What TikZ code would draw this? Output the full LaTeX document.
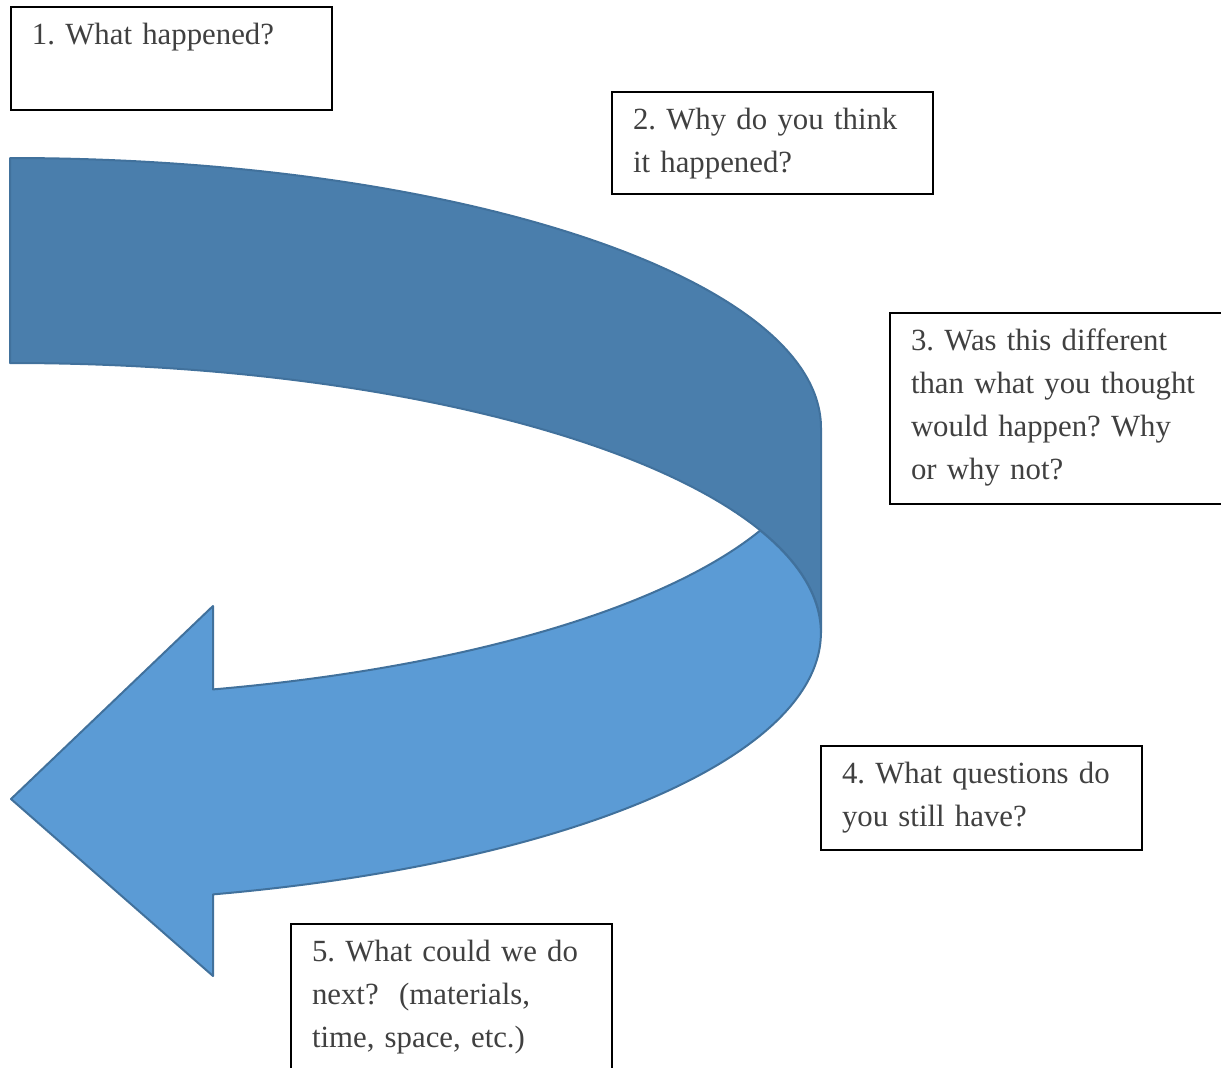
\documentclass[tikz,border=0pt]{standalone}
\usepackage{fontspec}
\setmainfont{Liberation Serif}
\usepackage{xcolor}
\usepackage{tikz}
\usetikzlibrary{positioning}
\definecolor{rbdark}{HTML}{4A7EAC}
\definecolor{rblight}{HTML}{5B9BD5}
\definecolor{rbline}{HTML}{41719C}
\definecolor{qink}{HTML}{404040}
\frenchspacing
\begin{document}
\begin{tikzpicture}[
  x=0.5pt,y=-0.5pt,
  every node/.style={font=\fontsize{15.4pt}{21.5pt}\selectfont,text=qink},
  qbox/.style={draw=black,line width=1pt,anchor=north west,align=left,outer sep=0pt,
    inner xsep=10.5pt,inner ysep=0pt,text width=139.5pt,text height=18.5pt},
  band/.style={draw=rbline,line width=1pt,line join=round},
  ell/.style={x radius=811,y radius=270}
]
\useasboundingbox (0,0) rectangle (1221,1067);
% back part of the ribbon
\draw[band,fill=rbdark] (10,158) arc[start angle=-90,end angle=0,ell]
  -- (821,633) arc[start angle=0,end angle=-90,ell] -- cycle;
% front part with the arrow head
\coordinate (tip) at (11,799);
\draw[band,fill=rblight] (213,689.4) arc[start angle=75.5,end angle=22.31,ell]
  arc[start angle=-22.31,end angle=75.5,ell]
  -- (213,976) -- (tip) -- (213,606) -- cycle;
% question boxes
\node[qbox,text depth=33pt] (q1) at (11,7) {1. What happened?};
\node[qbox,text depth=32.5pt] (q2) at (612,92) {2. Why do you think\\it happened?};
\node[qbox,text depth=77pt,text width=170pt] (q3) at (890,313)
  {3. Was this different\\than what you thought\\would happen? Why\\or why not?};
\node[qbox,text depth=33.5pt] (q4) at (821,746) {4. What questions do\\you still have?};
\node[qbox,text depth=61.5pt] (q5) at (291,924) {5. What could we do\\next?~ (materials,\\time, space, etc.)};
\end{tikzpicture}
\end{document}
